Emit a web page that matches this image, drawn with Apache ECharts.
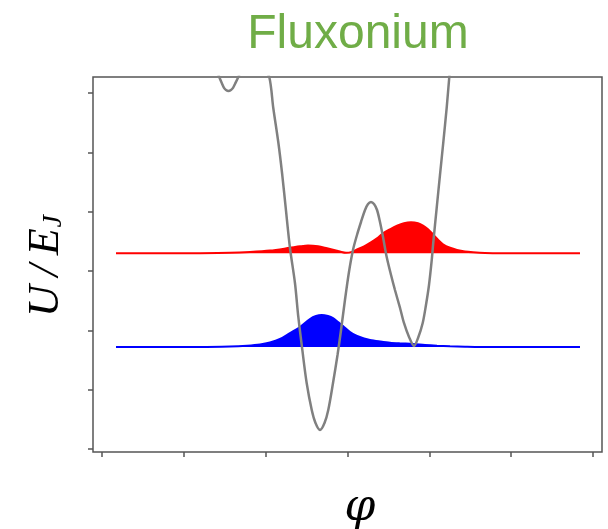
<!DOCTYPE html>
<html>
<head>
<meta charset="utf-8">
<script src="https://cdn.jsdelivr.net/npm/echarts@6/dist/echarts.min.js"></script>
<style>
html,body{margin:0;padding:0;background:#fff;}
#chart{width:608px;height:529px;}
</style>
</head>
<body>
<div id="chart"></div>
<script>
// Potential U(phi)/E_J (gray curve)
const potentialPhi = [-1.741,-1.656,-1.567,-1.534,-1.509,-1.485,-1.454,-1.424,-1.399,-1.375,-1.334,-1.277,-1.191,-1.106,-1.033,-0.956,-0.907,-0.846,-0.797,-0.755,-0.703,-0.642,-0.601,-0.552,-0.499,-0.437,-0.391,-0.336,-0.281,-0.235,-0.177,-0.122,-0.079,-0.031,0.018,0.067,0.116,0.165,0.214,0.251,0.287,0.324,0.361,0.397,0.434,0.479,0.532,0.580,0.642,0.690,0.752,0.813,0.862,0.919,0.959,0.996,1.027,1.049,1.090,1.130,1.171,1.212,1.244,1.277,1.314];
const potentialU   = [7.062,6.641,6.270,6.161,6.086,6.051,6.034,6.051,6.086,6.152,6.270,6.455,6.590,6.557,6.439,6.270,5.748,5.174,4.618,4.062,3.388,2.798,2.225,1.669,1.112,0.657,0.438,0.320,0.438,0.657,1.112,1.584,2.006,2.511,2.983,3.354,3.607,3.826,4.028,4.129,4.163,4.129,4.028,3.826,3.573,3.236,2.933,2.680,2.377,2.124,1.888,1.736,1.871,2.124,2.427,2.764,3.152,3.489,4.062,4.618,5.174,5.748,6.270,6.725,7.231];

// Ground state (blue): energy level and probability density
const groundEnergy = 1.719;
const groundPhi  = [-2.829,-1.802,-1.436,-1.228,-1.069,-0.947,-0.825,-0.703,-0.580,-0.458,-0.385,-0.315,-0.238,-0.177,-0.116,-0.055,0.031,0.116,0.202,0.275,0.397,0.519,0.642,0.800,0.947,1.094,1.253,1.436,1.619,2.841];
const groundDens = [0,0,0.008,0.022,0.042,0.076,0.135,0.236,0.337,0.472,0.522,0.539,0.522,0.489,0.421,0.354,0.253,0.185,0.143,0.118,0.093,0.072,0.061,0.051,0.034,0.022,0.013,0.005,0,0];

// Excited state (red)
const excitedEnergy = 3.298;
const excitedPhi  = [-2.829,-1.802,-1.436,-1.191,-0.947,-0.703,-0.580,-0.483,-0.360,-0.251,-0.153,-0.092,-0.018,0.055,0.116,0.202,0.275,0.360,0.434,0.519,0.605,0.690,0.776,0.862,0.923,0.984,1.045,1.106,1.167,1.253,1.338,1.436,1.534,1.680,1.864,2.841];
const excitedDens = [0,0.003,0.008,0.022,0.046,0.093,0.118,0.131,0.118,0.084,0.051,0.029,0.008,0.025,0.067,0.118,0.177,0.253,0.337,0.405,0.464,0.506,0.522,0.506,0.467,0.405,0.320,0.228,0.152,0.093,0.056,0.030,0.017,0.005,0,0];

const xTicks = [-3,-2,-1,0,1,2,3];
const yTicks = [0,1,2,3,4,5,6];

const titleText = 'Fluxonium';
const xLabel = '\u03C6';

const chart = echarts.init(document.getElementById('chart'), null, {renderer:'canvas'});

const zip = (a,b,off) => a.map((v,i)=>[v, b[i] + (off||0)]);

const axisColor = '#555555';

chart.setOption({
  animation:false,
  backgroundColor:'#ffffff',
  title:{
    text:titleText,
    left:353, top:6, textAlign:'center',
    textStyle:{color:'#70AD47', fontFamily:'Liberation Sans', fontSize:48, fontWeight:'normal'}
  },
  grid:{left:93, top:77, width:509, height:375, show:true, borderColor:axisColor, borderWidth:1.5, backgroundColor:'transparent'},
  xAxis:{
    type:'value', min:-3.110, max:3.110,
    axisLine:{show:false, onZero:false},
    axisTick:{show:true, customValues:xTicks, length:5, inside:false, lineStyle:{color:axisColor, width:1.5}},
    axisLabel:{show:false},
    splitLine:{show:false}
  },
  yAxis:{
    type:'value', min:-0.051, max:6.270,
    axisLine:{show:false, onZero:false},
    axisTick:{show:true, customValues:yTicks, length:5, inside:false, lineStyle:{color:axisColor, width:1.5}},
    axisLabel:{show:false},
    splitLine:{show:false}
  },
  graphic:[
    {type:'text', x:46, y:266, rotation:Math.PI/2, z:10,
      style:{text:'{a|U\u2009/\u2009E}{b|J}', align:'center', verticalAlign:'middle',
        rich:{
          a:{fontFamily:'Liberation Serif', fontStyle:'italic', fontSize:44, fill:'#000'},
          b:{fontFamily:'Liberation Serif', fontStyle:'italic', fontSize:28, fill:'#000', verticalAlign:'bottom', padding:[16,0,0,1]}
        }}},
    {type:'text', x:360, y:509, z:10,
      style:{text:xLabel, fontFamily:'DejaVu Serif', fontStyle:'italic', fontSize:44, fill:'#000', align:'center', verticalAlign:'middle'}}
  ],
  series:[
    {type:'line', name:'ground', data:zip(groundPhi, groundDens, groundEnergy), showSymbol:false, smooth:0.3,
      lineStyle:{color:'#0000FF', width:2}, areaStyle:{color:'#0000FF', opacity:1, origin:groundEnergy}, z:2},
    {type:'line', name:'excited', data:zip(excitedPhi, excitedDens, excitedEnergy), showSymbol:false, smooth:0.3,
      lineStyle:{color:'#FF0000', width:2}, areaStyle:{color:'#FF0000', opacity:1, origin:excitedEnergy}, z:3},
    {type:'line', name:'potential', data:zip(potentialPhi, potentialU), showSymbol:false, smooth:0.3, clip:true,
      lineStyle:{color:'#808080', width:2.5}, z:4}
  ]
});
</script>
</body>
</html>
